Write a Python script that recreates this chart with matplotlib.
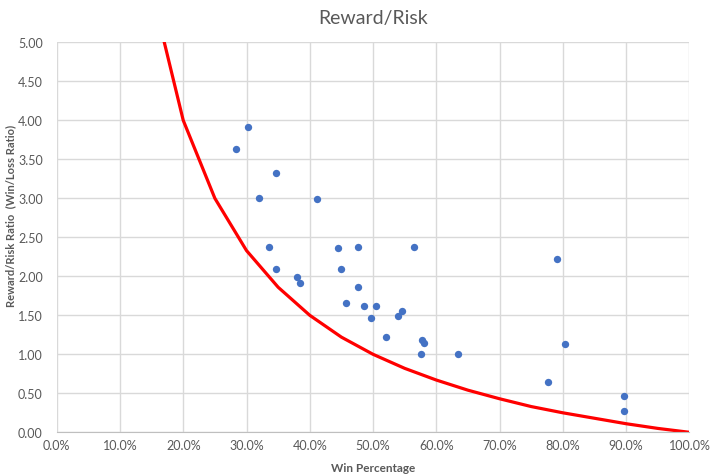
import matplotlib
matplotlib.use("Agg")
import matplotlib.pyplot as plt
from matplotlib.ticker import MultipleLocator, FuncFormatter

plt.rcParams['font.family'] = ['Lato', 'DejaVu Sans']

# breakeven curve (win %, reward/risk)
curve_x = [0.15, 0.20, 0.25, 0.30, 0.35, 0.40, 0.45, 0.50, 0.55, 0.60,
           0.65, 0.70, 0.75, 0.80, 0.85, 0.90, 0.95, 1.00]
curve_y = [5.67, 4.00, 3.00, 2.33, 1.86, 1.50, 1.22, 1.00, 0.82, 0.67,
           0.54, 0.43, 0.33, 0.25, 0.18, 0.11, 0.05, 0.00]

# trades / systems
win_pct = [0.303, 0.284, 0.346, 0.320, 0.412, 0.336, 0.445, 0.477, 0.565, 0.347,
           0.450, 0.380, 0.385, 0.477, 0.458, 0.485, 0.505, 0.497, 0.546, 0.540,
           0.521, 0.578, 0.581, 0.576, 0.635, 0.791, 0.804, 0.777, 0.897, 0.897]
ratio = [3.92, 3.63, 3.32, 3.01, 2.99, 2.38, 2.36, 2.37, 2.38, 2.09,
         2.10, 1.99, 1.91, 1.86, 1.66, 1.62, 1.62, 1.47, 1.56, 1.49,
         1.22, 1.18, 1.15, 1.01, 1.01, 2.22, 1.13, 0.65, 0.46, 0.27]

grey = '#595959'

fig = plt.figure(figsize=(7.12, 4.77), dpi=100)
ax = fig.add_axes([0.0796, 0.0916, 0.8887, 0.8176])

ax.plot(curve_x, curve_y, color='#FF0000', lw=2.3, zorder=2)
ax.scatter(win_pct, ratio, s=28, color='#4472C4', zorder=3, linewidths=0)

ax.set_xlim(0, 1)
ax.set_ylim(0, 5)
ax.xaxis.set_major_locator(MultipleLocator(0.1))
ax.yaxis.set_major_locator(MultipleLocator(0.5))
ax.xaxis.set_major_formatter(FuncFormatter(lambda v, p: f"{v*100:.1f}%"))
ax.yaxis.set_major_formatter(FuncFormatter(lambda v, p: f"{v:.2f}"))
ax.grid(True, color='#D9D9D9', lw=1)
ax.set_axisbelow(True)
for s in ['top', 'right', 'left']:
    ax.spines[s].set_visible(False)
ax.spines['bottom'].set_color('#BFBFBF')
ax.tick_params(length=0, colors=grey, labelsize=9)
ax.tick_params(axis='y', pad=10)
ax.tick_params(axis='x', pad=5)

ax.set_title("Reward/Risk", fontsize=14, color=grey, pad=14)
ax.set_xlabel("Win Percentage", fontsize=8.5, fontweight='bold', color=grey, labelpad=8)
fig.text(0.0145, 0.547, "Reward/Risk Ratio  (Win/Loss Ratio)", rotation=90,
         fontsize=8, fontweight='bold', color=grey, ha='center', va='center')

fig.savefig("out.png", dpi=100)
